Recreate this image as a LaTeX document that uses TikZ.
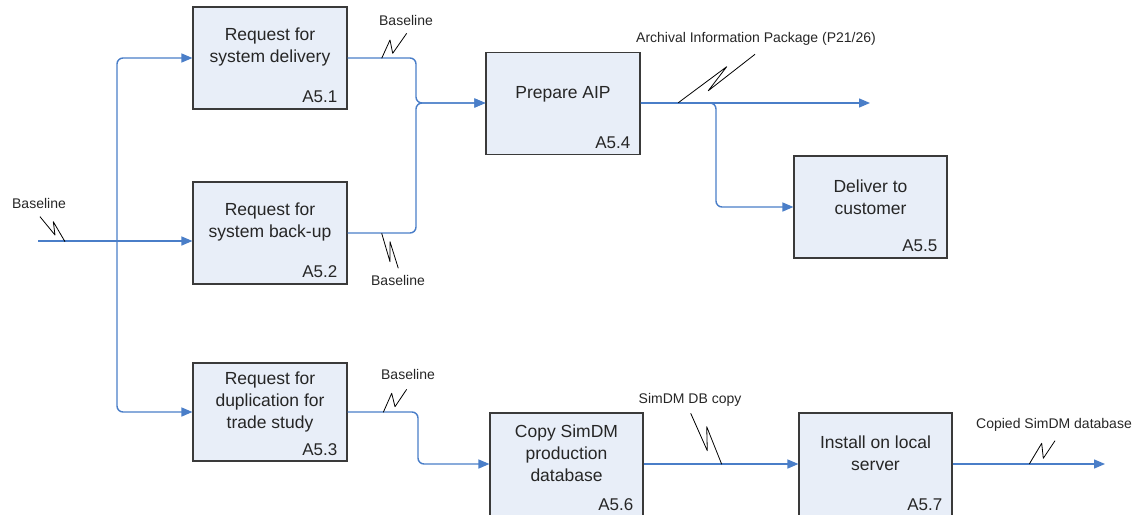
\documentclass[tikz,border=0pt]{standalone}
\usepackage{fontspec}
\setmainfont{Liberation Sans}
\usetikzlibrary{arrows.meta,calc}
\definecolor{flow}{HTML}{4A7EC8}
\definecolor{boxfill}{HTML}{E8EEF8}
\definecolor{boxline}{HTML}{3A3A3A}
\begin{document}
\begin{tikzpicture}[x=1pt,y=-1pt,
  fbox/.style={draw=boxline, fill=boxfill, line width=1.1pt, inner sep=0pt},
  title/.style={align=center, font=\fontsize{17.5}{22}\selectfont, inner sep=0pt, text=black!85},
  num/.style={anchor=base east, font=\fontsize{17}{20}\selectfont, inner sep=0pt, text=black!85},
  lbl/.style={font=\fontsize{14}{16}\selectfont, inner sep=0pt, text=black!85},
  flowline/.style={draw=flow, line width=1.4pt, rounded corners=6pt},
  arr/.style={flowline, -{Triangle[length=11pt,width=9pt]}},
  squig/.style={draw=black, line width=0.8pt, line join=round}]
\useasboundingbox (0,0) rectangle (1140,514);
\clip (0,0) rectangle (1140,514);

% boxes
\node[fbox, minimum width=154pt, minimum height=102pt] (a1) at (270,58) {};
\node[fbox, minimum width=154pt, minimum height=102pt] (a2) at (270,233) {};
\node[fbox, minimum width=154pt, minimum height=98pt] (a3) at (270,412) {};
\node[fbox, minimum width=154pt, minimum height=102pt] (a4) at (563,103.5) {};
\node[fbox, minimum width=153pt, minimum height=102pt] (a5) at (870.5,207) {};
\node[fbox, minimum width=153pt, minimum height=108pt] (a6) at (566.5,467) {};
\node[fbox, minimum width=153pt, minimum height=108pt] (a7) at (875.5,467) {};

% titles
\node[title] (t1) at ([yshift=-41pt]a1.north) {Request for\\system delivery};
\node[title] (t2) at ([yshift=-41pt]a2.north) {Request for\\system back-up};
\node[title] (t3) at ([yshift=-40pt]a3.north) {Request for\\duplication for\\trade study};
\node[title] (t4) at ([yshift=-42pt]a4.north) {Prepare AIP};
\node[title] (t5) at ([yshift=-42pt]a5.north) {Deliver to\\customer};
\node[title] (t6) at ([yshift=-41pt]a6.north) {Copy SimDM\\production\\database};
\node[title] (t7) at ([yshift=-41pt]a7.north) {Install on local\\server};

% numbers
\node[num] (n1) at ([xshift=-10pt,yshift=7pt]a1.south east) {A5.1};
\node[num] (n2) at ([xshift=-10pt,yshift=7pt]a2.south east) {A5.2};
\node[num] (n3) at ([xshift=-10pt,yshift=6pt]a3.south east) {A5.3};
\node[num] (n4) at ([xshift=-10pt,yshift=7pt]a4.south east) {A5.4};
\node[num] (n5) at ([xshift=-10pt,yshift=7pt]a5.south east) {A5.5};
\node[num] (n6) at ([xshift=-10pt,yshift=11pt]a6.south east) {A5.6};
\node[num] (n7) at ([xshift=-10pt,yshift=11pt]a7.south east) {A5.7};

% connectors
\coordinate (src) at (38,241);
\coordinate (split) at (117,241);
\draw[arr] (src) -- (a2.west |- src);
\draw[arr] (split) |- (a1.west);
\draw[arr] (split) |- (a3.west);

\coordinate (j) at (416,103);
\draw[arr] (a1.east) -| (j) -- (a4.west |- j);
\draw[arr] (a2.east) -| (j) -- (a4.west |- j);

\coordinate (aipend) at (870,103);
\coordinate (b) at (716,103);
\draw[arr] (a4.east |- b) -- (aipend);
\draw[arr] (a4.east |- b) -- (b) |- (a5.west);

\coordinate (c) at (418,412);
\coordinate (dbrow) at (0,464);
\draw[arr] (a3.east) -- (c) |- (a6.west |- dbrow);
\draw[arr] (a6.east |- dbrow) -- (a7.west |- dbrow);
\coordinate (dbend) at (1105,464);
\draw[arr] (a7.east |- dbrow) -- (dbend);

% squiggles
\draw[squig] (65,241.7) -- (53.3,221.7) -- (55,235) -- (40,216.7);
\draw[squig] (381.7,58.3) -- (390,40) -- (392.7,53.3) -- (406.7,33.3);
\draw[squig] (381.7,233.3) -- (390,261.7) -- (390,241.7) -- (398.3,268.3);
\draw[squig] (678.3,102.7) -- (726.7,66.7) -- (708.3,90.7) -- (755,54.3);
\draw[squig] (383.3,412.3) -- (391.7,393.3) -- (395,406.7) -- (406.7,389.3);
\draw[squig] (721.7,464.3) -- (706.7,426.7) -- (707.3,450.7) -- (690.7,413.3);
\draw[squig] (1029.3,464) -- (1041.7,443.3) -- (1043.3,458.3) -- (1055,440.7);

% labels
\node[lbl] (l0) at (39,203) {Baseline};
\node[lbl] (l1) at (406,20) {Baseline};
\node[lbl] (l2) at (398,280) {Baseline};
\node[lbl] (l4) at (756,39) {Archival Information Package (P21/26)};
\node[lbl] (l3) at (408,374) {Baseline};
\node[lbl] (l6) at (690,400) {SimDM DB copy};
\node[lbl] (l7) at (1054,425) {Copied SimDM database};
\end{tikzpicture}
\end{document}
